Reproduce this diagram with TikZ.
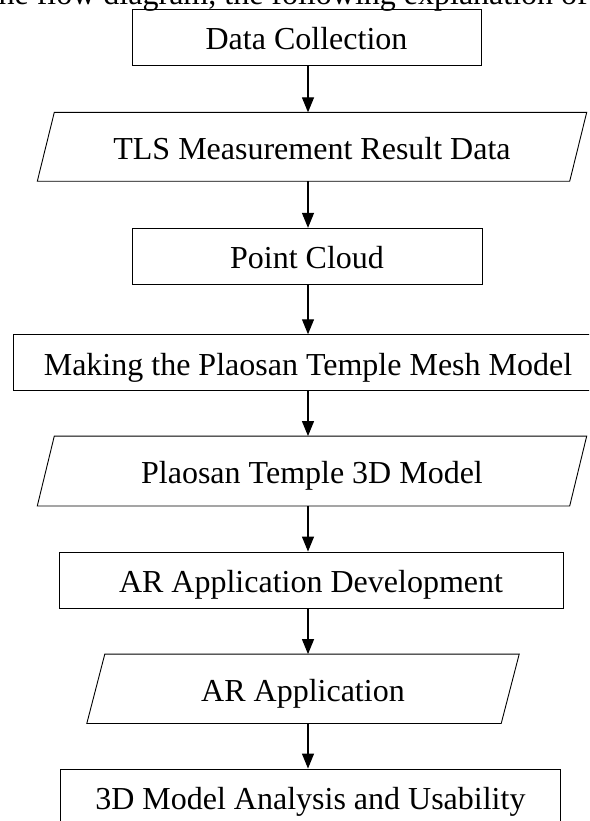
\documentclass[tikz,border=0pt]{standalone}
\usepackage{fontspec}
\setmainfont{Liberation Serif}
\usetikzlibrary{arrows.meta,calc}
\begin{document}
\begin{tikzpicture}[x=1pt,y=-1pt,
  txt/.style={font=\fontsize{32}{38}\selectfont, text height=25pt, text depth=0pt},
  box/.style={txt, draw, line width=0.9pt, minimum height=56pt, inner sep=0pt},
  para/.style={txt, inner sep=0pt},
  paraline/.style={line width=0.9pt, line join=miter},
  flow/.style={line width=1.2pt, -{Triangle[width=12pt,length=15pt]}}]
\useasboundingbox (0,0) rectangle (589,821);
\clip (0,0) rectangle (589,821);
\node[anchor=base east, font=\fontsize{32}{38}\selectfont, inner sep=0pt] (intro) at (588,5) {the flow diagram, the following explanation of};
\coordinate (axis) at (308,0);
\node[box, minimum width=349pt] (n1) at (306.5,37.3) {Data Collection};
\node[para, minimum width=532pt, minimum height=68.5pt] (n2) at (312,146.8) {TLS Measurement Result Data};
\draw[paraline] ($(n2.north west)+(8.5,0)$) -- ($(n2.north east)+(8.5,0)$) -- ($(n2.south east)+(-8.5,0)$) -- ($(n2.south west)+(-8.5,0)$) -- cycle;
\node[box, minimum width=350pt] (n3) at (307,256.3) {Point Cloud};
\node[box, minimum width=590pt] (n4) at (308,362.7) {Making the Plaosan Temple Mesh Model};
\node[para, minimum width=532pt, minimum height=69.5pt] (n5) at (312,471) {Plaosan Temple 3D Model};
\draw[paraline] ($(n5.north west)+(8.5,0)$) -- ($(n5.north east)+(8.5,0)$) -- ($(n5.south east)+(-8.5,0)$) -- ($(n5.south west)+(-8.5,0)$) -- cycle;
\node[box, minimum width=504pt] (n6) at (311,580) {AR Application Development};
\node[para, minimum width=414pt, minimum height=69pt] (n7) at (303,688.8) {AR Application};
\draw[paraline] ($(n7.north west)+(9,0)$) -- ($(n7.north east)+(9,0)$) -- ($(n7.south east)+(-9,0)$) -- ($(n7.south west)+(-9,0)$) -- cycle;
\node[box, minimum width=500.7pt] (n8) at (310.4,797) {3D Model Analysis and Usability};
\draw[flow] (n1.south -| axis) -- (n2.north -| axis);
\draw[flow] (n2.south -| axis) -- (n3.north -| axis);
\draw[flow] (n3.south -| axis) -- (n4.north -| axis);
\draw[flow] (n4.south -| axis) -- (n5.north -| axis);
\draw[flow] (n5.south -| axis) -- (n6.north -| axis);
\draw[flow] (n6.south -| axis) -- (n7.north -| axis);
\draw[flow] (n7.south -| axis) -- (n8.north -| axis);
\end{tikzpicture}
\end{document}
